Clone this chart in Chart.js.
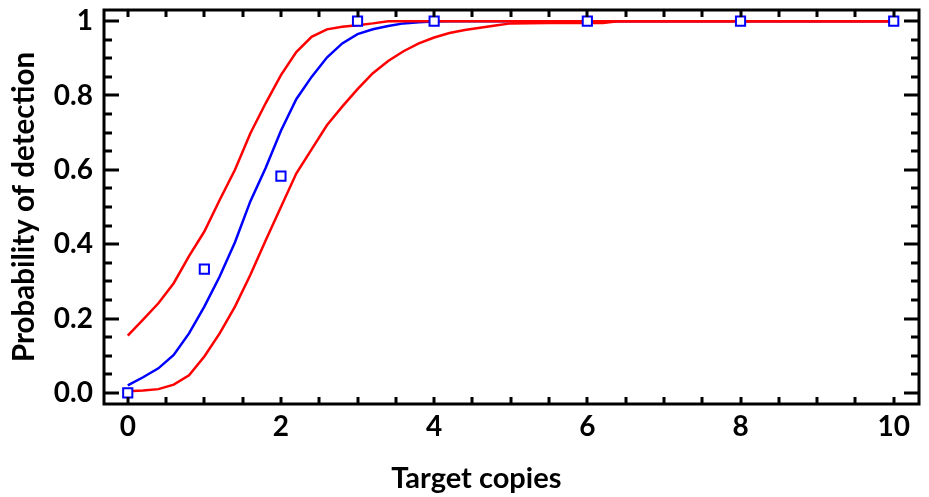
<!DOCTYPE html>
<html>
<head>
<meta charset="utf-8">
<script src="https://cdn.jsdelivr.net/npm/chart.js@4.4.1/dist/chart.umd.min.js"></script>
<style>
  html, body { margin: 0; padding: 0; background: #fff; }
</style>
</head>
<body>
<canvas id="myChart" width="929" height="497"></canvas>
<script>
// x grid of the fitted curve and its confidence bounds
var copiesGrid = [0, 0.2, 0.4, 0.6, 0.8, 1.0, 1.2, 1.4, 1.6, 1.8, 2.0, 2.2, 2.4, 2.6, 2.8, 3.0, 3.2, 3.4, 3.6, 3.8, 4.0, 4.2, 4.4, 4.6, 4.8, 5.0, 5.5, 6.0, 6.2, 6.4, 7, 8, 9, 10];
var fitProb = [0.02, 0.042, 0.066, 0.102, 0.16, 0.232, 0.313, 0.405, 0.515, 0.605, 0.705, 0.79, 0.85, 0.902, 0.94, 0.965, 0.978, 0.987, 0.994, 0.997, 0.999, 1, 1, 1, 1, 1, 1, 1, 1, 1, 1, 1, 1, 1];
var upperProb = [0.154, 0.197, 0.241, 0.295, 0.368, 0.434, 0.519, 0.6, 0.698, 0.779, 0.855, 0.917, 0.958, 0.978, 0.985, 0.989, 0.994, 1, 1, 1, 1, 1, 1, 1, 1, 1, 1, 1, 1, 1, 1, 1, 1, 1];
var lowerProb = [0.004, 0.006, 0.01, 0.022, 0.047, 0.098, 0.16, 0.232, 0.317, 0.41, 0.5, 0.59, 0.655, 0.72, 0.77, 0.817, 0.86, 0.893, 0.919, 0.94, 0.956, 0.968, 0.976, 0.982, 0.988, 0.994, 0.995, 0.995, 0.995, 1, 1, 1, 1, 1];

// observed detection rates
var obsCopies = [0, 1, 2, 3, 4, 6, 8, 10];
var obsProb = [0, 0.333, 0.583, 1, 1, 1, 1, 1];

var xTicks = [0, 2, 4, 6, 8, 10];
var yTicks = [0, 0.2, 0.4, 0.6, 0.8, 1];

var xTitle = 'Target copies';
var yTitle = 'Probability of detection';

function toPoints(xs, ys) {
  var pts = [];
  for (var i = 0; i < xs.length; i++) {
    pts.push({ x: xs[i], y: ys[i] });
  }
  return pts;
}

// frame with inward ticks (major/minor), drawn from the chart's own scales
var frameTicks = {
  id: 'frameTicks',
  afterDraw: function (chart) {
    var ctx = chart.ctx;
    var a = chart.chartArea;
    var xs = chart.scales.x;
    var ys = chart.scales.y;
    ctx.save();
    ctx.strokeStyle = '#000';
    ctx.lineWidth = 3;
    ctx.lineCap = 'butt';
    ctx.beginPath();
    // bottom and top ticks every 0.5
    for (var i = 0; i <= 20; i++) {
      var px = Math.round(xs.getPixelForValue(i * 0.5));
      ctx.moveTo(px, a.bottom);
      ctx.lineTo(px, a.bottom - 7);
      ctx.moveTo(px, a.top);
      ctx.lineTo(px, a.top + 7);
    }
    // left and right ticks every 0.05, major every 0.2
    for (var j = 0; j <= 20; j++) {
      var py = Math.round(ys.getPixelForValue(j * 0.05));
      var len = (j % 4 === 0) ? 15 : 8;
      ctx.moveTo(a.left, py);
      ctx.lineTo(a.left + len, py);
      ctx.moveTo(a.right, py);
      ctx.lineTo(a.right - len, py);
    }
    ctx.stroke();
    ctx.strokeRect(a.left, a.top, a.right - a.left, a.bottom - a.top);

    // x title sits a bit left of centre in the original
    ctx.fillStyle = '#000';
    ctx.font = 'bold 29px Lato, "Open Sans", sans-serif';
    ctx.textAlign = 'center';
    ctx.textBaseline = 'middle';
    ctx.fillText(xTitle, xs.getPixelForValue(4.55), 479);
    ctx.restore();
  }
};

var whiteBg = {
  id: 'whiteBg',
  beforeDraw: function (chart) {
    var ctx = chart.ctx;
    ctx.save();
    ctx.fillStyle = '#fff';
    ctx.fillRect(0, 0, chart.width, chart.height);
    ctx.restore();
  }
};

Chart.defaults.color = '#000';
Chart.defaults.font.family = 'Lato, "Open Sans", sans-serif';
Chart.defaults.font.weight = 'bold';

var ctx = document.getElementById('myChart').getContext('2d');
var myChart = new Chart(ctx, {
  type: 'scatter',
  data: {
    datasets: [
      {
        label: 'Observed',
        data: toPoints(obsCopies, obsProb),
        pointStyle: 'rect',
        pointRadius: 6.5,
        pointBorderWidth: 2,
        pointBackgroundColor: '#fff',
        pointBorderColor: '#0000ff',
        showLine: false,
        order: 0
      },
      {
        label: 'Upper',
        data: toPoints(copiesGrid, upperProb),
        showLine: true,
        borderColor: '#ff0000',
        borderWidth: 2.5,
        pointRadius: 0,
        order: 1
      },
      {
        label: 'Lower',
        data: toPoints(copiesGrid, lowerProb),
        showLine: true,
        borderColor: '#ff0000',
        borderWidth: 2.5,
        pointRadius: 0,
        order: 1
      },
      {
        label: 'Fit',
        data: toPoints(copiesGrid, fitProb),
        showLine: true,
        borderColor: '#0000ff',
        borderWidth: 2.5,
        pointRadius: 0,
        order: 2
      }
    ]
  },
  options: {
    responsive: false,
    animation: false,
    devicePixelRatio: 1,
    layout: { padding: { top: 10, right: 10, left: 0, bottom: 0 } },
    plugins: {
      legend: { display: false },
      tooltip: { enabled: false }
    },
    scales: {
      x: {
        type: 'linear',
        min: -0.31,
        max: 10.33,
        grid: { display: false, drawTicks: false },
        border: { display: false },
        afterBuildTicks: function (s) {
          s.ticks = xTicks.map(function (v) { return { value: v }; });
        },
        afterFit: function (s) {
          s.height = 93;
          s.paddingLeft = 0;
          s.paddingRight = 0;
        },
        ticks: {
          padding: 6,
          font: { size: 28, weight: 'bold' },
          maxRotation: 0,
          callback: function (v) { return String(v); }
        },
        title: { display: false }
      },
      y: {
        min: -0.03,
        max: 1.03,
        grid: { display: false, drawTicks: false },
        border: { display: false },
        afterBuildTicks: function (s) {
          s.ticks = yTicks.map(function (v) { return { value: v }; });
        },
        afterFit: function (s) {
          s.width = 104;
          s.paddingTop = 0;
          s.paddingBottom = 0;
        },
        ticks: {
          padding: 11,
          font: { size: 28, weight: 'bold' },
          callback: function (v) { return v === 1 ? '1' : v.toFixed(1); }
        },
        title: {
          display: true,
          text: yTitle,
          font: { size: 29.5, weight: 'bold' },
          padding: { top: 7, bottom: 0 }
        }
      }
    }
  },
  plugins: [whiteBg, frameTicks]
});
</script>
</body>
</html>
